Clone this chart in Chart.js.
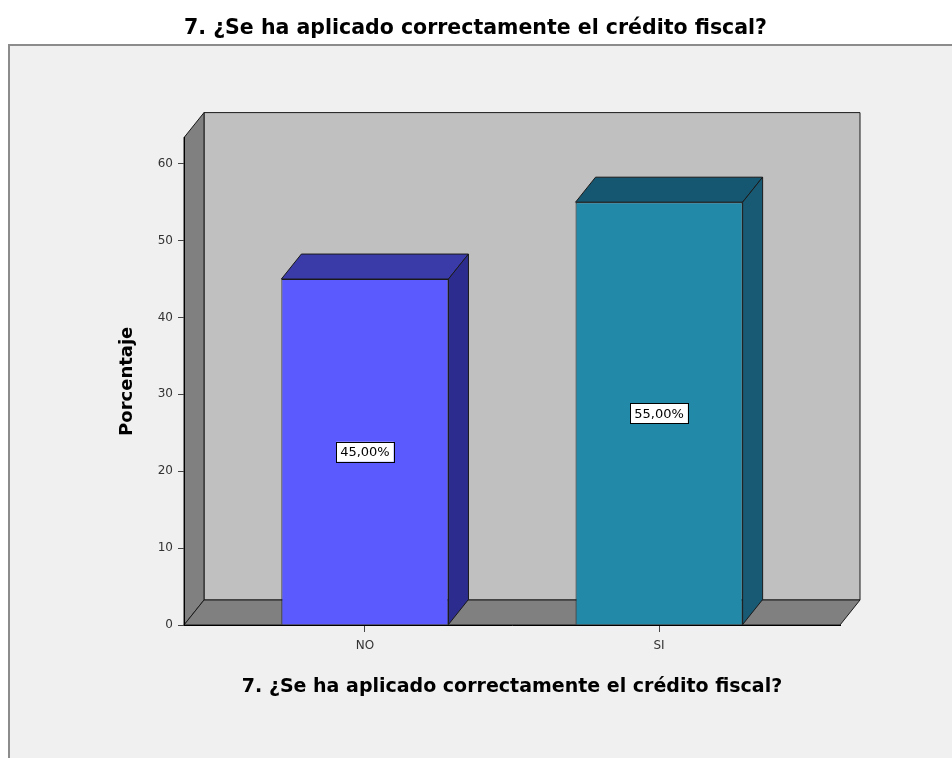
<!DOCTYPE html>
<html>
<head>
<meta charset="utf-8">
<script src="https://cdn.jsdelivr.net/npm/chart.js@4/dist/chart.umd.min.js"></script>
<style>
  html, body { margin: 0; padding: 0; background: #fff; }
  canvas { display: block; }
</style>
</head>
<body>
<canvas id="myChart" width="952" height="758"></canvas>
<script>
var pregunta = "7. ¿Se ha aplicado correctamente el crédito fiscal?";
var categorias = ["NO", "SI"];
var porcentajes = [45, 55];
var yTicks = [0, 10, 20, 30, 40, 50, 60];

// colores de cada barra: frente, tapa y lateral
var frente = ["#5a5aff", "#2389a9"];
var tapa = ["#3a3aa8", "#155670"];
var lateral = ["#2c2c8e", "#185a74"];

var prof = { x: 20, y: 25 };

function poly(ctx, pts, fill) {
  ctx.beginPath();
  ctx.moveTo(pts[0][0], pts[0][1]);
  for (var i = 1; i < pts.length; i++) ctx.lineTo(pts[i][0], pts[i][1]);
  ctx.closePath();
  ctx.fillStyle = fill;
  ctx.fill();
  ctx.strokeStyle = "#1a1a1a";
  ctx.lineWidth = 1;
  ctx.stroke();
}

// fondo, marco y paredes en perspectiva
var paredes = {
  id: "paredes",
  beforeDraw: function (chart) {
    var ctx = chart.ctx, a = chart.chartArea;
    var dx = prof.x, dy = prof.y;
    ctx.save();
    ctx.fillStyle = "#fff";
    ctx.fillRect(0, 0, chart.width, chart.height);
    ctx.fillStyle = "#f0f0f0";
    ctx.fillRect(9, 45, chart.width, chart.height);
    ctx.strokeStyle = "#8c8c8c";
    ctx.lineWidth = 2;
    ctx.strokeRect(9, 45, chart.width + 10, chart.height + 10);
    poly(ctx, [[a.left + dx, a.top - dy], [a.right + dx, a.top - dy], [a.right + dx, a.bottom - dy], [a.left + dx, a.bottom - dy]], "#c0c0c0");
    poly(ctx, [[a.left, a.top], [a.left + dx, a.top - dy], [a.left + dx, a.bottom - dy], [a.left, a.bottom]], "#808080");
    poly(ctx, [[a.left, a.bottom], [a.left + dx, a.bottom - dy], [a.right + dx, a.bottom - dy], [a.right, a.bottom]], "#808080");
    ctx.restore();
  },
  afterDatasetsDraw: function (chart) {
    var ctx = chart.ctx;
    var dx = prof.x, dy = prof.y;
    var meta = chart.getDatasetMeta(0);
    ctx.save();
    meta.data.forEach(function (bar, i) {
      var l = bar.x - bar.width / 2, r = bar.x + bar.width / 2;
      poly(ctx, [[l, bar.y], [l + dx, bar.y - dy], [r + dx, bar.y - dy], [r, bar.y]], tapa[i]);
      poly(ctx, [[r, bar.y], [r + dx, bar.y - dy], [r + dx, bar.base - dy], [r, bar.base]], lateral[i]);

      // etiqueta con el valor
      var txt = porcentajes[i].toFixed(2).replace(".", ",") + "%";
      ctx.font = "13px 'DejaVu Sans'";
      var w = ctx.measureText(txt).width + 8, h = 20;
      var cy = (bar.y + bar.base) / 2;
      ctx.fillStyle = "#fff";
      ctx.fillRect(bar.x - w / 2, cy - h / 2, w, h);
      ctx.strokeStyle = "#000";
      ctx.lineWidth = 1;
      ctx.strokeRect(Math.round(bar.x - w / 2) + 0.5, Math.round(cy - h / 2) + 0.5, Math.round(w), h);
      ctx.fillStyle = "#000";
      ctx.textAlign = "center";
      ctx.textBaseline = "middle";
      ctx.fillText(txt, bar.x, cy + 1);
    });
    ctx.restore();
  }
};

var ctx = document.getElementById("myChart");
var myChart = new Chart(ctx, {
  type: "bar",
  data: {
    datasets: [{
      data: porcentajes.map(function (v, i) { return { x: i, y: v }; }),
      backgroundColor: frente,
      borderColor: "#1a1a1a",
      borderWidth: 1,
      barPercentage: 0.568,
      categoryPercentage: 1
    }]
  },
  options: {
    responsive: false,
    animation: false,
    devicePixelRatio: 1,
    layout: { padding: { left: 111, right: 112, top: 0, bottom: 50 } },
    plugins: {
      legend: { display: false },
      tooltip: { enabled: false },
      title: {
        display: true,
        text: pregunta,
        color: "#000",
        font: { family: "'DejaVu Sans'", size: 20.5, weight: "bold" },
        padding: { top: 16, bottom: 97 }
      }
    },
    scales: {
      x: {
        type: "linear",
        min: -0.615,
        max: 1.615,
        bounds: "data",
        offset: false,
        afterBuildTicks: function (s) {
          s.ticks = categorias.map(function (c, i) { return { value: i }; });
        },
        afterFit: function (s) { s.height = 83; },
        ticks: {
          autoSkip: false,
          maxRotation: 0,
          padding: 7,
          color: "#333",
          font: { family: "'DejaVu Sans'", size: 12 },
          callback: function (v) { return categorias[v]; }
        },
        grid: { drawOnChartArea: false, offset: false, tickLength: 7, tickColor: "#444" },
        border: { color: "#000", width: 1 },
        title: {
          display: true,
          text: pregunta,
          color: "#000",
          font: { family: "'DejaVu Sans'", size: 19, weight: "bold" },
          padding: { top: 0, bottom: 10 }
        }
      },
      y: {
        min: 0,
        max: 63.4,
        bounds: "data",
        afterBuildTicks: function (s) {
          s.ticks = yTicks.map(function (v) { return { value: v }; });
        },
        afterFit: function (s) { s.width = 73; },
        ticks: {
          padding: 5,
          color: "#333",
          font: { family: "'DejaVu Sans'", size: 12 }
        },
        grid: { drawOnChartArea: false, tickLength: 6, tickColor: "#444" },
        border: { color: "#000", width: 1 },
        title: {
          display: true,
          text: "Porcentaje",
          color: "#000",
          font: { family: "'DejaVu Sans'", size: 18, weight: "bold" },
          padding: { top: 6, bottom: 0 }
        }
      }
    }
  },
  plugins: [paredes]
});
</script>
</body>
</html>
